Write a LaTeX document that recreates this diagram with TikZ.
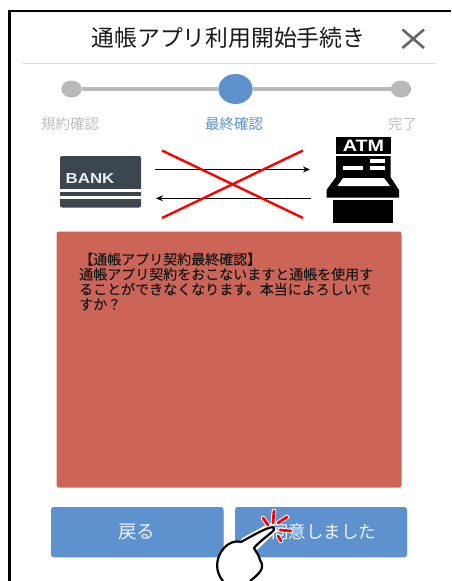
\documentclass[tikz,border=0pt]{standalone}
\usepackage{fontspec}
\newfontfamily\cjk{Noto Sans CJK JP}
\newfontfamily\cjkb[FakeBold=0.25]{Noto Sans CJK JP}
\setmainfont{Liberation Sans}
\definecolor{blueA}{HTML}{5E92CF}
\definecolor{greyA}{HTML}{B9B9B9}
\definecolor{slateA}{HTML}{3B4650}
\definecolor{panelA}{HTML}{CC6557}
\usetikzlibrary{shadows,arrows.meta,calc}
\tikzset{
  stepdot/.style={circle,fill=greyA,inner sep=0pt,minimum size=17pt,xscale=1.2},
  steptext/.style={font=\cjk\fontsize{14.5}{15}\selectfont,inner sep=0pt},
  btn/.style={fill=blueA,rounded corners=2.5pt,drop shadow={shadow xshift=0pt,shadow yshift=-1pt,opacity=.25}},
  btntext/.style={font=\cjk\fontsize{17.5}{18}\selectfont,text=white!90!blueA,inner sep=0pt},
  flow/.style={draw=black,line width=1.3pt,-{Stealth[length=7pt,width=6pt]}},
  cross/.style={draw=red,line width=2.4pt},
  spark/.style={draw=red,line width=2.8pt,line cap=round},
  sparkhalo/.style={draw=white,line width=4.6pt,line cap=round},
}
\begin{document}
\begin{tikzpicture}[x=1pt,y=-1pt]
\useasboundingbox (0,0) rectangle (451,581);
\fill[white] (0,0) rectangle (451,581);
% frame
\draw[line width=2.4pt,black] (9.5,581) -- (9.5,11) -- (451,11);
% header
\node[font=\cjk\fontsize{22.8}{24}\selectfont,text=black!90,inner sep=0pt] (title) at (228.5,37.5) {通帳アプリ利用開始手続き};
\coordinate (xa) at (402.5,29.5); \coordinate (xb) at (424,48);
\coordinate (xc) at (424,29.5); \coordinate (xd) at (402.5,48);
\draw[line width=2.6pt,black!60] (xa) -- (xb) (xc) -- (xd);
\coordinate (ruleL) at (22,63.5); \coordinate (ruleR) at (436,63.5);
\draw[line width=1.2pt,black!13] (ruleL) -- (ruleR);
% steps
\node[stepdot] (s1) at (71.5,89) {};
\node[stepdot] (s3) at (401,89) {};
\node[circle,fill=blueA,inner sep=0pt,minimum size=30pt,xscale=1.14] (s2) at (235.5,89) {};
\draw[line width=3.6pt,greyA] (s1) -- (s2);
\draw[line width=3.6pt,greyA] (s2) -- (s3);
\node[steptext,text=black!25] (l1) at (70,124) {規約確認};
\node[steptext,text=blueA] (l2) at (234,124) {最終確認};
\node[steptext,text=black!25] (l3) at (402.5,124) {完了};
% bank card
\fill[slateA,rounded corners=2pt] (60,156) rectangle (141,207.5);
\fill[white] (60,188.5) rectangle (141,191.5);
\fill[white] (60,195.5) rectangle (141,198.5);
\node[font=\bfseries\fontsize{14.5}{15}\selectfont,text=white!92!slateA,inner sep=0pt,anchor=west,xscale=1.16] (bank) at (65.5,179) {BANK};
% ATM
\fill[black] (336,137) rectangle (390.5,153.5);
\node[font=\bfseries\fontsize{16.5}{17}\selectfont,text=white,inner sep=0pt,xscale=1.2] (atm) at (363.5,145.5) {ATM};
\fill[black] (336,156) -- (390.5,156) -- (390.5,177) -- (399,190) -- (399,197.5) -- (326.5,197.5) -- (326.5,190) -- (336,177) -- cycle;
\fill[white] (342.5,166) rectangle (362.5,170);
\fill[white] (370,158.5) rectangle (385,162.5);
\fill[white] (370,166) rectangle (385,170);
\fill[white] (343,178) -- (384,178) -- (390,186) -- (337.5,186) -- cycle;
\fill[black] (333,200) rectangle (393,222.5);
% arrows
\coordinate (a1) at (155,169.5); \coordinate (a2) at (310,169.5);
\coordinate (b1) at (311,198.3); \coordinate (b2) at (156,198.3);
\draw[flow] (a1) -- (a2);
\draw[flow] (b1) -- (b2);
\coordinate (c1) at (162,150.5); \coordinate (c2) at (303,218);
\coordinate (c3) at (303,150.5); \coordinate (c4) at (162,218);
\draw[cross] (c1) -- (c2);
\draw[cross] (c3) -- (c4);
% panel
\fill[panelA,rounded corners=2.5pt] (56.5,231.5) rectangle (401.5,487.5);
\node[font=\cjkb\fontsize{14}{15}\selectfont,text=black!90,inner sep=0pt,anchor=north west,align=left] (msg) at (79,252.5) {
【通帳アプリ契約最終確認】\\
通帳アプリ契約をおこないますと通帳を使用す\\
ることができなくなります。本当によろしいで\\
すか？};
% buttons
\path[btn] (51,507) rectangle (223.5,557);
\path[btn] (235,507) rectangle (407,557);
\node[btntext,font=\cjk\fontsize{18.5}{19}\selectfont] (bt1) at (136.5,532) {戻る};
\node[btntext] (bt2) at (323.5,532) {同意しました};
% hand
\path[draw=white,line width=4pt,line join=round,line cap=round]
 (243,540) -- (270,525) (256,548) -- (275,530);
\path[draw=black,fill=white,line width=2.2pt,line join=round]
 (223,581) .. controls (215,572) and (215,558) .. (224,548)
 .. controls (228,543) and (236,540) .. (241,542)
 .. controls (250,537) and (262,530) .. (270,527.5)
 .. controls (275,526) and (275,530) .. (272,532)
 .. controls (266,537) and (258,543) .. (254,548)
 .. controls (256,552) and (259,555) .. (260,560)
 .. controls (263,564) and (263,569) .. (259,573)
 .. controls (256,576) and (253,579) .. (250,581);
% sparks
\foreach \s/\e in {{(263,518)}/{(268,525)},{(274,511)}/{(273,523)},{(287,517)}/{(278,523)},{(280,530)}/{(291,531)},{(278,536)}/{(281,541)}}{
  \draw[sparkhalo] \s -- \e;
}
\draw[spark] (263,518) -- (268,525);
\draw[spark] (274,511) -- (273,523);
\draw[spark] (287,517) -- (278,523);
\draw[spark] (280,530) -- (291,531);
\draw[spark] (278,536) -- (281,541);
\end{tikzpicture}
\end{document}
